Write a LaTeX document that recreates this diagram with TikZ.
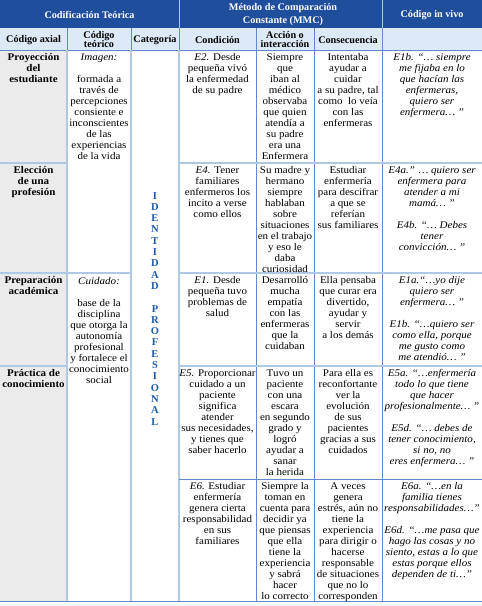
\documentclass[tikz,border=0pt]{standalone}
\usepackage{fontspec}
\setmainfont{Liberation Serif}
\newfontfamily\ancho{Liberation Serif}[FakeStretch=1.08]
\definecolor{azulosc}{HTML}{1E4E9C}
\definecolor{azulcla}{HTML}{DCEAF8}
\definecolor{gris}{HTML}{EBEBEB}
\definecolor{colclaro}{HTML}{AFC8E4}
\definecolor{colosc}{HTML}{5F8BCB}
\definecolor{azulletra}{HTML}{1F5AA8}

\begin{document}
\begin{tikzpicture}[x=1pt,y=-1pt,
  celda/.style={anchor=north,align=center,inner sep=0pt,
    font=\ancho\fontsize{10.2}{11}\selectfont,execute at begin node=\strut},
  cursiva/.style={celda,font=\ancho\itshape\fontsize{10.2}{11}\selectfont},
  eje/.style={celda,font=\ancho\bfseries\fontsize{10.2}{11}\selectfont},
  titulo/.style={align=center,inner sep=0pt,text=white,
    font=\bfseries\fontsize{10.2}{12.5}\selectfont},
  subtitulo/.style={align=center,inner sep=0pt,
    font=\bfseries\fontsize{10.2}{9.5}\selectfont},
  letras/.style={anchor=north,align=center,inner sep=0pt,text=azulletra,
    font=\bfseries\fontsize{10.5}{11.3}\selectfont,execute at begin node=\strut},
  linclara/.style={draw=colclaro,line width=1.6pt},
  linosc/.style={draw=colosc,line width=0.8pt}]
		\useasboundingbox (0,0) rectangle (482,606);

		\fill[azulosc] (0,0) rectangle (482,28);
		\fill[azulcla] (0,28) rectangle (482,50);
		\fill[gris] (0,50) rectangle (67,601);

		\draw[draw=colclaro,line width=0.8pt] (179,0) -- (179,28);
		\draw[draw=colclaro,line width=0.8pt] (382,0) -- (382,28);
		\draw[linosc] (0,50) -- (482,50);
		\draw[linosc] (67,28) -- (67,50);
		\draw[linosc] (131,28) -- (131,50);
		\draw[linosc] (179,28) -- (179,50);
		\draw[linosc] (256,28) -- (256,601);
		\draw[linosc] (314,28) -- (314,601);
		\draw[linosc] (382,28) -- (382,601);
		\draw[linclara] (67,50) -- (67,601);
		\draw[linclara] (131,50) -- (131,601);
		\draw[linclara] (179,50) -- (179,601);

		\draw[linclara] (0,163) -- (67,163);
		\draw[linclara] (179,163) -- (482,163);
		\draw[linclara] (0,273) -- (131,273);
		\draw[linclara] (179,273) -- (482,273);
		\draw[linclara] (0,366) -- (67,366);
		\draw[linclara] (179,366) -- (482,366);
		\draw[linosc] (179,479) -- (482,479);
		\draw[linosc] (0,601) -- (482,601);

		\node[titulo] (codif) at (89.5,15) {Codificación Teórica};
		\node[titulo] (metodo) at (283,14.5) {Método de Comparación\\Constante (MMC)};
		\node[titulo] (invivo) at (432,15) {Código in vivo};

		\node[subtitulo] (haxial) at (33.5,40) {Código axial};
		\node[subtitulo] (hteorico) at (99,39.5) {Código\\teórico};
		\node[subtitulo] (hcat) at (155,40) {Categoría};
		\node[subtitulo] (hcond) at (217.5,40) {Condición};
		\node[subtitulo] (haccion) at (285,39.5) {Acción o\\interacción};
		\node[subtitulo] (hcons) at (348,40) {Consecuencia};

		\node[eje] (ax1) at (33.5,53.3) {Proyección\\del\\estudiante};
		\node[eje] (ax2) at (33.5,166.3) {Elección\\de una\\profesión};
		\node[eje] (ax3) at (33.5,276.3) {Preparación\\académica};
		\node[eje] (ax4) at (33.5,369.3) {Práctica de\\conocimiento};

		\node[celda] (teo1) at (99,53.3) {\textit{Imagen:}\\[11pt]formada a\\través de\\percepciones\\consiente e\\inconscientes\\de las\\experiencias\\de la vida};
		\node[celda] (teo2) at (99,277) {\textit{Cuidado:}\\[11pt]base de la\\disciplina\\que otorga la\\autonomía\\profesional\\y fortalece el\\conocimiento\\social};

		\node[letras] (cat) at (155,192) {I\\D\\E\\N\\T\\I\\D\\A\\D\\[11.3pt]P\\R\\O\\F\\E\\S\\I\\O\\N\\A\\L};

		\node[celda] (cond1) at (217.5,53.3) {\textit{E2.} Desde\\pequeña vivó\\la enfermedad\\de su padre};
		\node[celda] (cond2) at (217.5,166.3) {\textit{E4.} Tener\\familiares\\enfermeros los\\incito a verse\\como ellos};
		\node[celda] (cond3) at (217.5,276.3) {\textit{E1.} Desde\\pequeña tuvo\\problemas de\\salud};
		\node[celda] (cond4) at (217.5,369.3) {\textit{E5.} Proporcionar\\cuidado a un\\paciente\\significa\\atender\\sus necesidades,\\y tienes que\\saber hacerlo};
		\node[celda] (cond5) at (217.5,482.3) {\textit{E6.} Estudiar\\enfermería\\genera cierta\\responsabilidad\\en sus\\familiares};

		\node[celda] (acc1) at (285,53.3) {Siempre\\que\\iban al\\médico\\observaba\\que quien\\atendía a\\su padre\\era una\\Enfermera};
		\node[celda] (acc2) at (285,166.3) {Su madre y\\hermano\\siempre\\hablaban\\sobre\\situaciones\\en el trabajo\\y eso le\\daba\\curiosidad};
		\node[celda] (acc3) at (285,276.3) {Desarrolló\\mucha\\empatía\\con las\\enfermeras\\que la\\cuidaban};
		\node[celda] (acc4) at (285,369.3) {Tuvo un\\paciente\\con una\\escara\\en segundo\\grado y\\logró\\ayudar a\\sanar\\la herida};
		\node[celda] (acc5) at (285,482.3) {Siempre la\\toman en\\cuenta para\\decidir ya\\que piensas\\que ella\\tiene la\\experiencia\\y sabrá\\hacer\\lo correcto};

		\node[celda] (cons1) at (348,53.3) {Intentaba\\ayudar a\\cuidar\\a su padre, tal\\como\ \ lo veía\\con las\\enfermeras};
		\node[celda] (cons2) at (348,166.3) {Estudiar\\enfermería\\para descifrar\\a que se\\referían\\sus familiares};
		\node[celda] (cons3) at (348,276.3) {Ella pensaba\\que curar era\\divertido,\\ayudar y\\servir\\a los demás};
		\node[celda] (cons4) at (348,369.3) {Para ella es\\reconfortante\\ver la\\evolución\\de sus\\pacientes\\gracias a sus\\cuidados};
		\node[celda] (cons5) at (348,482.3) {A veces\\genera\\estrés, aún no\\tiene la\\experiencia\\para dirigir o\\hacerse\\responsable\\de situaciones\\que no lo\\corresponden};

		\node[cursiva] (viv1) at (432,53.3) {E1b. “… siempre\\me fijaba en lo\\que hacían las\\enfermeras,\\quiero ser\\enfermera… ”};
		\node[cursiva] (viv2) at (432,166.3) {E4a.” … quiero ser\\enfermera para\\atender a mi\\mamá… ”\\[11pt]E4b. “… Debes\\tener\\convicción… ”};
		\node[cursiva] (viv3) at (432,276.3) {E1a.“…yo dije\\quiero ser\\enfermera… ”\\[11pt]E1b. “…quiero ser\\como ella, porque\\me gusto como\\me atendió… ”};
		\node[cursiva] (viv4) at (432,369.3) {E5a. “…enfermería\\todo lo que tiene\\que hacer\\profesionalmente… ”\\[11pt]E5d. “… debes de\\tener conocimiento,\\si no, no\\eres enfermera… ”};
		\node[cursiva] (viv5) at (432,482.3) {E6a. “…en la\\familia tienes\\responsabilidades…”\\[11pt]E6d. “…me pasa que\\hago las cosas y no\\siento, estas a lo que\\estas porque ellos\\dependen de ti…”};
	\end{tikzpicture}
\end{document}
